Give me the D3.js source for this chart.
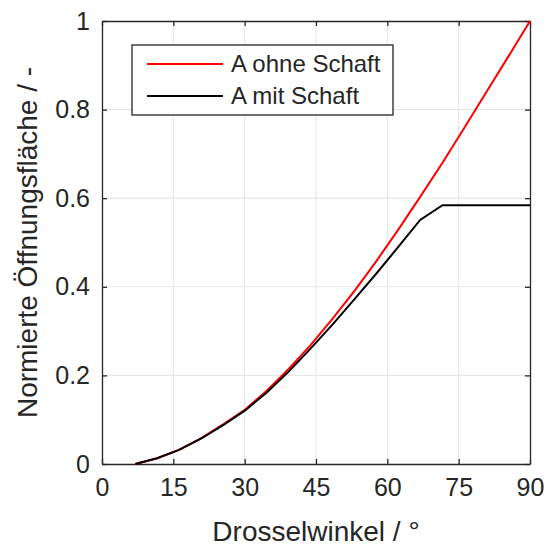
<!DOCTYPE html>
<html>
<head>
<meta charset="utf-8">
<script src="https://cdn.jsdelivr.net/npm/d3@7"></script>
<style>
  body { margin: 0; background: #fff; }
  text { font-family: "Liberation Sans", Arial, Helvetica, sans-serif; fill: #262626; }
</style>
</head>
<body>
<script>
// data
const winkel = [7, 11.6, 16.2, 20.8, 25.4, 30.1, 34.7, 39.3, 43.9, 48.5, 53.1, 57.7, 62.3, 66.9, 71.6, 76.2, 80.8, 85.4, 90];
const ohneSchaft = [0, 0.013, 0.032, 0.058, 0.089, 0.123, 0.166, 0.215, 0.269, 0.328, 0.391, 0.458, 0.529, 0.603, 0.680, 0.759, 0.839, 0.919, 1.0];
const mitSchaft = [0, 0.013, 0.032, 0.057, 0.087, 0.121, 0.162, 0.209, 0.261, 0.315, 0.372, 0.430, 0.490, 0.551, 0.584, 0.584, 0.584, 0.584, 0.584];
const xTicks = [0, 15, 30, 45, 60, 75, 90];
const yTicks = [0, 0.2, 0.4, 0.6, 0.8, 1];
const seriesNames = ["A ohne Schaft", "A mit Schaft"];

const width = 548, height = 546;
const margin = {top: 21, right: 18, bottom: 82, left: 102};
const plot_width = width - margin.left - margin.right;
const plot_height = height - margin.top - margin.bottom;

const svg = d3.select("body").append("svg")
    .attr("width", width)
    .attr("height", height);

const xScale = d3.scaleLinear([0, 90], [margin.left, margin.left + plot_width]);
const yScale = d3.scaleLinear([0, 1], [margin.top + plot_height, margin.top]);
const axisColor = "#262626";

// grid
svg.append("g")
    .attr("stroke", "#e3e3e3")
    .attr("stroke-width", 1)
    .call(g => g.selectAll(".vx").data(xTicks.slice(1, -1)).join("line")
        .attr("x1", d => xScale(d)).attr("x2", d => xScale(d))
        .attr("y1", margin.top).attr("y2", margin.top + plot_height))
    .call(g => g.selectAll(".hy").data(yTicks.slice(1, -1)).join("line")
        .attr("y1", d => yScale(d)).attr("y2", d => yScale(d))
        .attr("x1", margin.left).attr("x2", margin.left + plot_width));

// axes (ticks inward, box on all sides)
const tickFmt = d => d3.format("")(d);
svg.append("g")
    .attr("transform", `translate(0,${margin.top + plot_height})`)
    .call(d3.axisBottom(xScale).tickValues(xTicks).tickSize(-5).tickPadding(14).tickSizeOuter(0))
    .call(g => g.selectAll("text").attr("font-size", 25).attr("dy", "0.71em"));
svg.append("g")
    .attr("transform", `translate(0,${margin.top})`)
    .call(d3.axisTop(xScale).tickValues(xTicks).tickSize(-5).tickSizeOuter(0))
    .call(g => g.selectAll("text").remove());
svg.append("g")
    .attr("transform", `translate(${margin.left},0)`)
    .call(d3.axisLeft(yScale).tickValues(yTicks).tickFormat(tickFmt).tickSize(-5).tickPadding(12).tickSizeOuter(0))
    .call(g => g.selectAll("text").attr("font-size", 25));
svg.append("g")
    .attr("transform", `translate(${margin.left + plot_width},0)`)
    .call(d3.axisRight(yScale).tickValues(yTicks).tickSize(-5).tickSizeOuter(0))
    .call(g => g.selectAll("text").remove());
svg.selectAll(".domain").attr("stroke", axisColor).attr("stroke-width", 1.3);
svg.selectAll(".tick line").attr("stroke", axisColor).attr("stroke-width", 1.3);
svg.selectAll(".tick text").attr("fill", axisColor);

// lines
const line = d3.line().x((d, i) => xScale(winkel[i])).y(d => yScale(d));
svg.append("path").datum(ohneSchaft)
    .attr("fill", "none").attr("stroke", "#ff0000").attr("stroke-width", 2)
    .attr("d", line);
svg.append("path").datum(mitSchaft)
    .attr("fill", "none").attr("stroke", "#000000").attr("stroke-width", 2)
    .attr("d", line);

// axis labels
svg.append("text")
    .attr("x", margin.left + plot_width / 2)
    .attr("y", 541)
    .attr("text-anchor", "middle")
    .attr("font-size", 28)
    .text("Drosselwinkel / °");
svg.append("text")
    .attr("transform", `translate(37,${margin.top + plot_height / 2}) rotate(-90)`)
    .attr("text-anchor", "middle")
    .attr("font-size", 28)
    .text("Normierte Öffnungsfläche / -");

// legend
const legend = svg.append("g");
legend.append("rect")
    .attr("x", 132).attr("y", 45).attr("width", 261).attr("height", 70)
    .attr("fill", "#fff").attr("stroke", axisColor).attr("stroke-width", 1.3);
const legColors = ["#ff0000", "#000000"];
seriesNames.forEach((name, i) => {
    const y = 64 + i * 32;
    legend.append("line")
        .attr("x1", 147).attr("x2", 223).attr("y1", y).attr("y2", y)
        .attr("stroke", legColors[i]).attr("stroke-width", 2);
    legend.append("text")
        .attr("x", 231).attr("y", y).attr("dy", "0.35em")
        .attr("font-size", 24).attr("fill", "#000")
        .text(name);
});
</script>
</body>
</html>
